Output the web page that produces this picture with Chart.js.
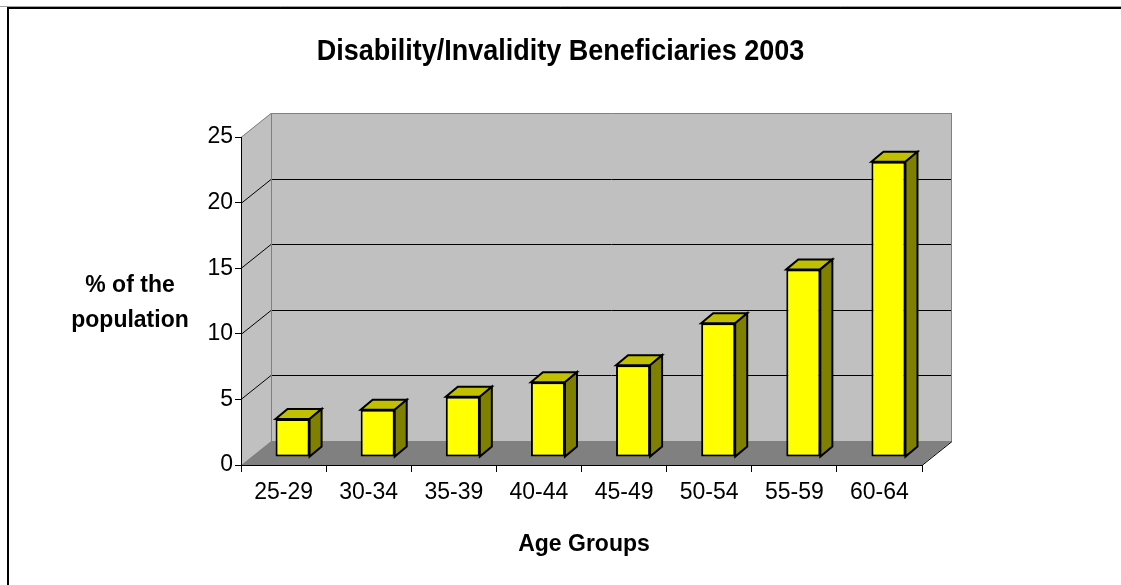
<!DOCTYPE html>
<html>
<head>
<meta charset="utf-8">
<title>Disability/Invalidity Beneficiaries 2003</title>
<script src="https://cdn.jsdelivr.net/npm/chart.js@4.4.1/dist/chart.umd.min.js"></script>
<style>
  html, body { margin: 0; padding: 0; background: #ffffff; }
  canvas { display: block; }
</style>
</head>
<body>
<canvas id="chart" width="1121" height="585"></canvas>
<script>
// Age groups and share of the population receiving disability/invalidity benefits (%)
const ageGroups = ['25-29', '30-34', '35-39', '40-44', '45-49', '50-54', '55-59', '60-64'];
const beneficiaryShare = [2.9, 3.6, 4.6, 5.7, 7.0, 10.2, 14.3, 22.5];
const yTicks = [0, 5, 10, 15, 20, 25];

const chartTitle = 'Disability/Invalidity Beneficiaries 2003';
const yTitleLines = ['% of the', 'population'];
const xTitle = 'Age Groups';

const FONT = "'Liberation Sans', Arial, sans-serif";

// Perspective of the box: back wall offset from the front plane
const DEPTH = { x: 30, y: -24 };
// Where the bar front faces sit inside the box, and the bar depth
const BAR_SHIFT = { x: 9, y: -8 };
const BAR_DEPTH = { x: 12, y: -10 };

// Draws text slightly stretched vertically, like the narrow chart lettering
function drawText(ctx, text, x, y, font) {
  ctx.save();
  ctx.font = font;
  ctx.translate(x, y);
  ctx.scale(1, 1.08);
  ctx.fillText(text, 0, 0);
  ctx.restore();
}

const boxPlugin = {
  id: 'box3d',
  beforeDraw(chart) {
    const ctx = chart.ctx;
    const { left, right, top, bottom } = chart.chartArea;
    const yScale = chart.scales.y;
    ctx.save();

    // outer frame
    ctx.strokeStyle = '#a0a0a0';
    ctx.lineWidth = 1;
    ctx.beginPath();
    ctx.moveTo(0, 6.5); ctx.lineTo(chart.width, 6.5);
    ctx.stroke();
    ctx.strokeStyle = '#000000';
    ctx.lineWidth = 2;
    ctx.beginPath();
    ctx.moveTo(8, chart.height); ctx.lineTo(8, 8); ctx.lineTo(chart.width, 8);
    ctx.stroke();

    const bx = DEPTH.x, by = DEPTH.y;

    // back wall
    ctx.fillStyle = '#c0c0c0';
    ctx.fillRect(left + bx, top + by, right - left, bottom - top);
    // side wall
    ctx.beginPath();
    ctx.moveTo(left, bottom); ctx.lineTo(left, top);
    ctx.lineTo(left + bx, top + by); ctx.lineTo(left + bx, bottom + by);
    ctx.closePath();
    ctx.fill();
    // floor
    ctx.fillStyle = '#808080';
    ctx.beginPath();
    ctx.moveTo(left, bottom); ctx.lineTo(right, bottom);
    ctx.lineTo(right + bx, bottom + by); ctx.lineTo(left + bx, bottom + by);
    ctx.closePath();
    ctx.fill();

    // gridlines across side wall and back wall
    ctx.lineWidth = 1;
    yTicks.forEach(v => {
      if (v === 0) return;
      const py = Math.round(yScale.getPixelForValue(v)) + 0.5;
      ctx.strokeStyle = v === yTicks[yTicks.length - 1] ? '#808080' : '#000000';
      ctx.beginPath();
      ctx.moveTo(left, py);
      ctx.lineTo(left + bx, py + by);
      ctx.lineTo(right + bx, py + by);
      ctx.stroke();
    });

    // wall edges
    ctx.strokeStyle = '#808080';
    ctx.beginPath();
    ctx.moveTo(left + bx + 0.5, top + by);
    ctx.lineTo(left + bx + 0.5, bottom + by);
    ctx.moveTo(right + bx - 0.5, top + by);
    ctx.lineTo(right + bx - 0.5, bottom + by);
    ctx.stroke();
    ctx.strokeStyle = '#000000';
    ctx.beginPath();
    ctx.moveTo(right, bottom + 0.5);
    ctx.lineTo(right + bx, bottom + by + 0.5);
    ctx.stroke();

    ctx.restore();
  },
  beforeDatasetDraw(chart) {
    chart.ctx.save();
    chart.ctx.translate(BAR_SHIFT.x, BAR_SHIFT.y);
  },
  afterDatasetDraw(chart, args) {
    const ctx = chart.ctx;
    ctx.restore();
    const meta = args.meta;
    ctx.save();
    ctx.lineWidth = 2;
    ctx.lineJoin = 'miter';
    ctx.strokeStyle = '#000000';
    meta.data.forEach(bar => {
      const L = bar.x - bar.width / 2 + BAR_SHIFT.x;
      const R = bar.x + bar.width / 2 + BAR_SHIFT.x;
      const T = bar.y + BAR_SHIFT.y;
      const B = bar.base + BAR_SHIFT.y;
      const ox = BAR_DEPTH.x, oy = BAR_DEPTH.y;
      // top face
      ctx.fillStyle = '#c0c000';
      ctx.beginPath();
      ctx.moveTo(L, T); ctx.lineTo(L + ox, T + oy);
      ctx.lineTo(R + ox, T + oy); ctx.lineTo(R, T);
      ctx.closePath();
      ctx.fill(); ctx.stroke();
      // side face
      ctx.fillStyle = '#808000';
      ctx.beginPath();
      ctx.moveTo(R, T); ctx.lineTo(R + ox, T + oy);
      ctx.lineTo(R + ox, B + oy); ctx.lineTo(R, B);
      ctx.closePath();
      ctx.fill(); ctx.stroke();
    });
    ctx.restore();
  },
  afterDraw(chart) {
    const ctx = chart.ctx;
    ctx.save();
    ctx.fillStyle = '#000000';
    ctx.textAlign = 'center';
    ctx.textBaseline = 'alphabetic';
    drawText(ctx, chartTitle, 560.5, 60, 'bold 27px ' + FONT);
    const axisFont = 'bold 23px ' + FONT;
    drawText(ctx, yTitleLines[0], 130, 292, axisFont);
    drawText(ctx, yTitleLines[1], 130, 327, axisFont);
    drawText(ctx, xTitle, 584, 551, axisFont);
    ctx.restore();
  }
};

new Chart(document.getElementById('chart'), {
  type: 'bar',
  data: {
    labels: ageGroups,
    datasets: [{
      data: beneficiaryShare,
      backgroundColor: '#ffff00',
      borderColor: '#000000',
      borderWidth: 2,
      borderSkipped: false,
      barPercentage: 0.8,
      categoryPercentage: 0.5
    }]
  },
  options: {
    responsive: false,
    animation: false,
    devicePixelRatio: 1,
    layout: { padding: { left: 0, right: 199, top: 137, bottom: 0 } },
    plugins: {
      legend: { display: false },
      tooltip: { enabled: false },
      title: { display: false }
    },
    scales: {
      x: {
        offset: true,
        grid: {
          offset: true,
          drawOnChartArea: false,
          drawTicks: true,
          tickLength: 7,
          color: '#000000'
        },
        border: { display: true, color: '#000000', width: 1 },
        ticks: {
          color: '#000000',
          font: { family: FONT, size: 23 },
          padding: 7,
          maxRotation: 0
        },
        afterFit(scale) { scale.height = 120; }
      },
      y: {
        min: 0,
        max: 25,
        afterBuildTicks(scale) { scale.ticks = yTicks.map(v => ({ value: v })); },
        grid: {
          drawOnChartArea: false,
          drawTicks: true,
          tickLength: 6,
          color: '#000000'
        },
        border: { display: true, color: '#000000', width: 1 },
        ticks: {
          color: '#000000',
          font: { family: FONT, size: 23 },
          padding: 2
        },
        afterFit(scale) { scale.width = 241; }
      }
    }
  },
  plugins: [boxPlugin]
});
</script>
</body>
</html>
